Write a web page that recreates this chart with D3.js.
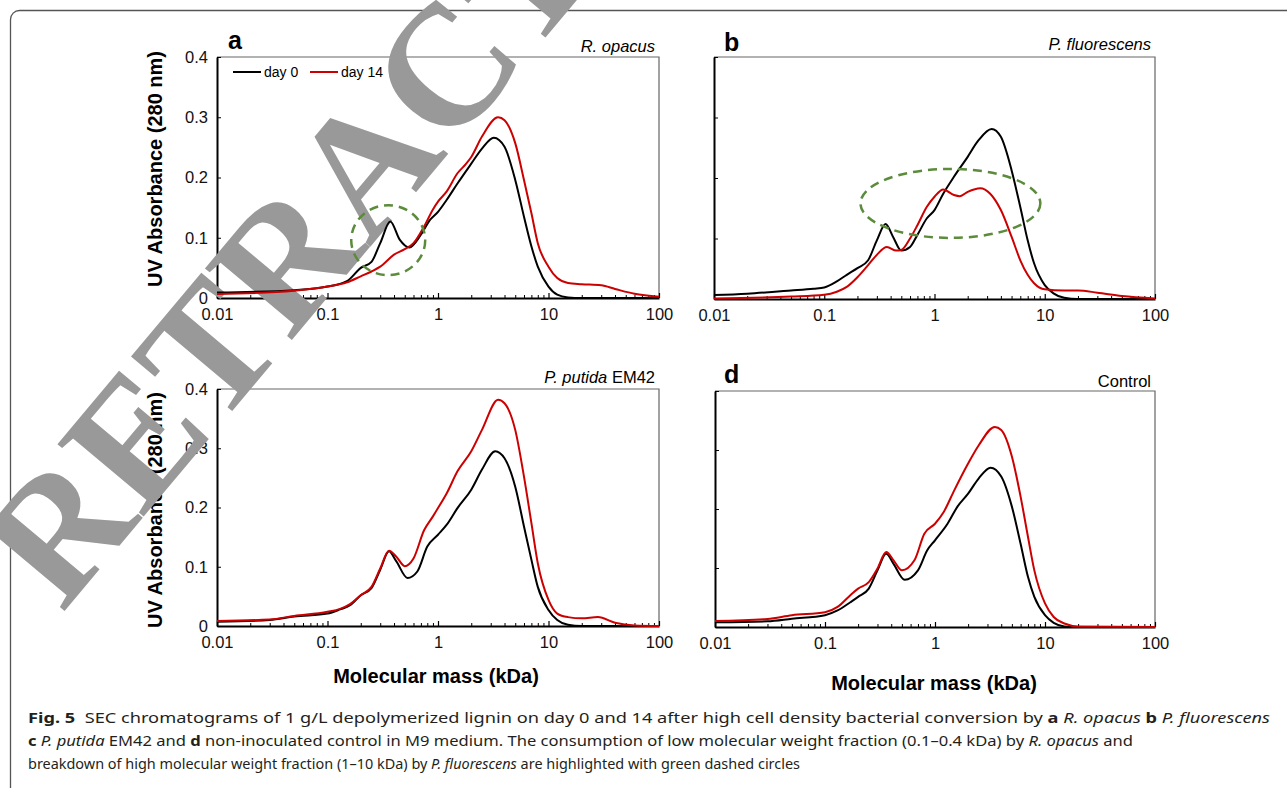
<!DOCTYPE html>
<html>
<head>
<meta charset="utf-8">
<script src="https://cdn.jsdelivr.net/npm/d3@7"></script>
<style>
  body { margin: 0; background: #fff; }
  svg { display: block; }
</style>
</head>
<body>
<script>
var width = 1287,
    height = 788;

// axis ticks
var xTicks = [0.01, 0.1, 1, 10, 100],
    xTickLabels = ["0.01", "0.1", "1", "10", "100"];
var yTicks = [0, 0.1, 0.2, 0.3, 0.4],
    yTickLabels = ["0", "0.1", "0.2", "0.3", "0.4"];

var seriesNames = ["day 0", "day 14"];

// [molecular mass (kDa), UV absorbance]
var aDay0 = [[0.01,0.009],[0.05,0.013],[0.1,0.019],[0.15,0.028],[0.2,0.05],[0.25,0.06],[0.3,0.091],[0.37,0.127],[0.45,0.097],[0.55,0.084],[0.7,0.105],[0.85,0.13],[1,0.143],[1.2,0.163],[1.5,0.19],[2,0.223],[2.5,0.248],[3.2,0.266],[4,0.251],[5,0.196],[6,0.135],[7,0.086],[8,0.052],[10,0.019],[12,0.0055],[15,0.001],[20,0],[100,0]];
var aDay14 = [[0.01,0.0066],[0.05,0.012],[0.1,0.019],[0.15,0.026],[0.2,0.036],[0.25,0.044],[0.3,0.052],[0.4,0.072],[0.5,0.081],[0.6,0.091],[0.75,0.119],[0.9,0.147],[1,0.16],[1.2,0.177],[1.5,0.207],[1.8,0.223],[2,0.234],[2.5,0.268],[3.5,0.3],[4,0.295],[5,0.257],[6,0.196],[7,0.141],[8,0.091],[10,0.052],[12,0.033],[15,0.025],[20,0.023],[30,0.021],[40,0.015],[60,0.007],[100,0.002]];

var bDay0 = [[0.01,0.0066],[0.02,0.0088],[0.05,0.014],[0.08,0.017],[0.1,0.019],[0.13,0.029],[0.16,0.04],[0.2,0.051],[0.25,0.064],[0.3,0.097],[0.36,0.124],[0.42,0.103],[0.5,0.08],[0.6,0.086],[0.7,0.106],[0.85,0.133],[1,0.147],[1.2,0.174],[1.5,0.202],[2,0.235],[2.5,0.262],[3.3,0.281],[4,0.268],[5,0.213],[6,0.152],[7,0.097],[8,0.059],[10,0.023],[12,0.0094],[15,0.002],[20,0],[100,0]];
var bDay14 = [[0.01,0.001],[0.05,0.004],[0.1,0.007],[0.13,0.012],[0.16,0.02],[0.2,0.036],[0.25,0.056],[0.3,0.073],[0.37,0.086],[0.45,0.08],[0.5,0.081],[0.6,0.1],[0.7,0.122],[0.85,0.152],[1,0.169],[1.2,0.181],[1.5,0.172],[1.7,0.17],[2,0.177],[2.6,0.183],[3.2,0.174],[4,0.147],[5,0.103],[6,0.064],[7,0.04],[8,0.026],[10,0.016],[15,0.014],[20,0.014],[30,0.0105],[50,0.005],[100,0.001]];

var cDay0 = [[0.01,0.0073],[0.03,0.01],[0.05,0.016],[0.1,0.021],[0.13,0.028],[0.16,0.035],[0.2,0.052],[0.25,0.064],[0.3,0.095],[0.36,0.126],[0.42,0.109],[0.53,0.081],[0.65,0.092],[0.8,0.134],[1,0.154],[1.2,0.171],[1.5,0.199],[2,0.23],[2.5,0.264],[3.3,0.295],[4,0.283],[5,0.235],[6,0.168],[7,0.112],[8,0.066],[10,0.027],[12,0.01],[15,0.002],[20,0],[100,0]];
var cDay14 = [[0.01,0.0085],[0.03,0.011],[0.05,0.017],[0.1,0.024],[0.13,0.029],[0.16,0.037],[0.2,0.052],[0.25,0.066],[0.3,0.097],[0.36,0.127],[0.42,0.117],[0.5,0.101],[0.6,0.114],[0.75,0.162],[0.9,0.185],[1,0.199],[1.2,0.224],[1.5,0.261],[2,0.295],[2.5,0.331],[3.5,0.382],[4,0.376],[5,0.331],[6,0.252],[7,0.174],[8,0.106],[10,0.044],[12,0.021],[15,0.015],[20,0.013],[28,0.015],[40,0.0056],[60,0.001],[100,0]];

var dDay0 = [[0.01,0.0079],[0.03,0.0096],[0.05,0.014],[0.1,0.02],[0.13,0.028],[0.17,0.042],[0.2,0.051],[0.25,0.065],[0.3,0.096],[0.36,0.124],[0.42,0.107],[0.53,0.08],[0.7,0.096],[0.85,0.13],[1,0.147],[1.3,0.175],[1.6,0.204],[2,0.226],[2.5,0.252],[3.2,0.27],[4,0.255],[5,0.204],[6,0.141],[7,0.085],[8,0.051],[10,0.02],[12,0.007],[15,0.001],[20,0],[100,0]];
var dDay14 = [[0.01,0.01],[0.03,0.0136],[0.05,0.02],[0.1,0.025],[0.13,0.034],[0.17,0.054],[0.2,0.065],[0.25,0.076],[0.3,0.099],[0.36,0.127],[0.42,0.113],[0.5,0.096],[0.65,0.113],[0.8,0.158],[1,0.175],[1.2,0.195],[1.5,0.232],[2,0.277],[2.5,0.308],[3.5,0.339],[4,0.334],[5,0.289],[6,0.221],[7,0.153],[8,0.096],[10,0.04],[12,0.017],[15,0.006],[20,0.001],[100,0]];

// highlighted regions: [mass range], [absorbance range]
var circleA = {mass: [0.164, 0.766], abs: [0.038, 0.154]};
var circleB = {mass: [0.213, 9.12], abs: [0.101, 0.215]};

var panels = [
  {letter: "a", species: "R. opacus", extra: "", day0: aDay0, day14: aDay14, circle: circleA, yLabels: true, legend: true,
   x0: 217, x1: 659, y0: 57, y1: 298, letterX: 228, letterY: 49, spY: 52, yTitleY: 169, xTitle: false},
  {letter: "b", species: "P. fluorescens", extra: "", day0: bDay0, day14: bDay14, circle: circleB, yLabels: false, legend: false,
   x0: 714, x1: 1155, y0: 57, y1: 299, letterX: 724, letterY: 51, spY: 50, xTitle: false},
  {letter: "c", species: "P. putida", extra: " EM42", day0: cDay0, day14: cDay14, circle: null, yLabels: true, legend: false,
   x0: 217, x1: 659, y0: 389, y1: 626, letterX: 228, letterY: 381, spY: 383, yTitleY: 510, xTitle: true, xTitleX: 436, xTitleY: 683},
  {letter: "d", species: "", extra: "Control", day0: dDay0, day14: dDay14, circle: null, yLabels: false, legend: false,
   x0: 715, x1: 1155, y0: 391, y1: 627, letterX: 724, letterY: 383, spY: 387, xTitle: true, xTitleX: 934, xTitleY: 690}
];

var black = "#000",
    red = "#cc0000",
    green = "#5b8b3b";

var svg = d3.select("body")
    .append("svg")
    .attr("width", width)
    .attr("height", height)
    .style("font-family", "'Liberation Sans', Arial, sans-serif");

// outer box of the figure
svg.append("path")
    .attr("d", "M10.5," + height + " V19.5 A9,9 0 0 1 19.5,10.5 H" + width)
    .attr("fill", "none")
    .attr("stroke", "#555")
    .attr("stroke-width", 1.3);

var below = svg.append("g"),
    mark = svg.append("g"),
    above = svg.append("g");

// minor ticks 2..9 of each decade
var minorTicks = [];
[0.01, 0.1, 1, 10].forEach(function(dec) {
  for (var k = 2; k < 10; k++) minorTicks.push(dec * k);
});

panels.forEach(function(p) {
  var x = d3.scaleLog().domain([0.01, 100]).range([p.x0, p.x1]);
  var y = d3.scaleLinear().domain([0, 0.4]).range([p.y1, p.y0]);
  p.x = x; p.y = y;

  var g = below.append("g");

  // top and right border
  g.append("path")
      .attr("d", "M" + p.x0 + "," + p.y0 + " H" + p.x1 + " V" + p.y1)
      .attr("fill", "none")
      .attr("stroke", "#666")
      .attr("stroke-width", 1.2);

  // x axis
  var xa = g.append("g")
      .attr("transform", "translate(0," + p.y1 + ")")
      .call(d3.axisBottom(x).tickValues(xTicks)
        .tickFormat(function(d, i) { return xTickLabels[i]; })
        .tickSize(-5).tickSizeOuter(0).tickPadding(10));
  xa.select(".domain").attr("stroke", black).attr("stroke-width", 2);
  xa.selectAll("text").attr("font-size", 16.5).attr("fill", "#111").attr("font-family", "'Liberation Sans', Arial, sans-serif");
  xa.selectAll(".tick line").attr("stroke-width", 1.2);

  g.append("g")
      .attr("transform", "translate(0," + p.y1 + ")")
      .call(d3.axisBottom(x).tickValues(minorTicks).tickFormat("").tickSize(-3).tickSizeOuter(0))
      .call(function(s) { s.select(".domain").remove(); })
      .selectAll("line").attr("stroke-width", 1);

  // y axis
  var ya = g.append("g")
      .attr("transform", "translate(" + p.x0 + ",0)")
      .call(d3.axisLeft(y).tickValues(yTicks)
        .tickFormat(function(d, i) { return p.yLabels ? yTickLabels[i] : ""; })
        .tickSize(-4).tickSizeOuter(0).tickPadding(9));
  ya.select(".domain").attr("stroke", black).attr("stroke-width", 2);
  ya.selectAll("text").attr("font-size", 16.5).attr("fill", "#111").attr("font-family", "'Liberation Sans', Arial, sans-serif");

  // panel letter
  g.append("text")
      .attr("x", p.letterX)
      .attr("y", p.letterY)
      .attr("font-size", 25)
      .attr("font-weight", "bold")
      .text(p.letter);

  // organism label
  var sp = g.append("text")
      .attr("x", p.x1 - 4)
      .attr("y", p.spY)
      .attr("text-anchor", "end")
      .attr("font-size", 16.5);
  if (p.species) sp.append("tspan").attr("font-style", "italic").text(p.species);
  if (p.extra) sp.append("tspan").text(p.extra);

  if (p.yTitleY) {
    g.append("text")
        .attr("transform", "translate(162," + p.yTitleY + ") rotate(-90)")
        .attr("text-anchor", "middle")
        .attr("font-size", 20)
        .attr("font-weight", "bold")
        .text("UV Absorbance (280 nm)");
  }
  if (p.xTitle) {
    g.append("text")
        .attr("x", p.xTitleX)
        .attr("y", p.xTitleY)
        .attr("text-anchor", "middle")
        .attr("font-size", 20)
        .attr("font-weight", "bold")
        .text("Molecular mass (kDa)");
  }
});

// watermark
mark.append("text")
    .attr("transform", "translate(62,614) rotate(-50)")
    .attr("font-family", "'Liberation Serif', 'Times New Roman', serif")
    .attr("font-weight", "bold")
    .attr("font-size", 172)
    .attr("fill", "#999")
    .text("RETRACTED");

// curves, highlight circles and legend on top
panels.forEach(function(p) {
  var x = p.x, y = p.y;
  var g = above.append("g");
  var line = d3.line()
      .x(function(d) { return x(d[0]); })
      .y(function(d) { return y(d[1]); })
      .curve(d3.curveMonotoneX);

  g.append("path").datum(p.day0)
      .attr("d", line).attr("fill", "none")
      .attr("stroke", black).attr("stroke-width", 2);
  g.append("path").datum(p.day14)
      .attr("d", line).attr("fill", "none")
      .attr("stroke", red).attr("stroke-width", 2);

  if (p.circle) {
    var cx0 = x(p.circle.mass[0]), cx1 = x(p.circle.mass[1]),
        cy0 = y(p.circle.abs[1]), cy1 = y(p.circle.abs[0]);
    g.append("ellipse")
        .attr("cx", (cx0 + cx1) / 2)
        .attr("cy", (cy0 + cy1) / 2)
        .attr("rx", (cx1 - cx0) / 2)
        .attr("ry", (cy1 - cy0) / 2)
        .attr("fill", "none")
        .attr("stroke", green)
        .attr("stroke-width", 2.5)
        .attr("stroke-dasharray", "9,6");
  }

  if (p.legend) {
    var lg = g.append("g").attr("font-size", 14);
    [black, red].forEach(function(c, i) {
      var lx = p.x0 + 16 + i * 77;
      lg.append("line")
          .attr("x1", lx).attr("x2", lx + 28)
          .attr("y1", p.y0 + 15).attr("y2", p.y0 + 15)
          .attr("stroke", c).attr("stroke-width", 2);
      lg.append("text")
          .attr("x", lx + 31)
          .attr("y", p.y0 + 20)
          .text(seriesNames[i]);
    });
  }
});

// caption
var cap = svg.append("g")
    .attr("font-family", "'Noto Sans', 'Open Sans', sans-serif")
    .attr("font-size", 15)
    .attr("fill", "#231f20");

var captionLines = [
  {y: 723, len: 1242, parts: [["Fig. 5", "b"], ["  SEC chromatograms of 1 g/L depolymerized lignin on day 0 and 14 after high cell density bacterial conversion by ", ""], ["a", "b"], [" ", ""], ["R. opacus", "i"], [" ", ""], ["b", "b"], [" ", ""], ["P. fluorescens", "i"]]},
  {y: 746, len: 1105, parts: [["c", "b"], [" ", ""], ["P. putida", "i"], [" EM42 and ", ""], ["d", "b"], [" non-inoculated control in M9 medium. The consumption of low molecular weight fraction (0.1–0.4 kDa) by ", ""], ["R. opacus", "i"], [" and", ""]]},
  {y: 769, len: 772, parts: [["breakdown of high molecular weight fraction (1–10 kDa) by ", ""], ["P. fluorescens", "i"], [" are highlighted with green dashed circles", ""]]}
];

captionLines.forEach(function(l) {
  var t = cap.append("text")
      .attr("x", 28)
      .attr("y", l.y)
      .attr("xml:space", "preserve")
      .attr("textLength", l.len)
      .attr("lengthAdjust", "spacingAndGlyphs");
  l.parts.forEach(function(pt) {
    t.append("tspan")
        .attr("font-weight", pt[1] === "b" ? "bold" : null)
        .attr("font-style", pt[1] === "i" ? "italic" : null)
        .text(pt[0]);
  });
});
</script>
</body>
</html>
